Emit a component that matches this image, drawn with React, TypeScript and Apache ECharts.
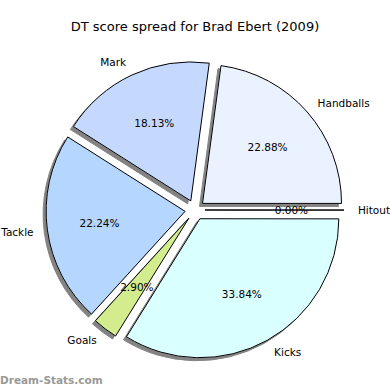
import React, { useEffect, useRef } from "react";
import * as echarts from "echarts";

const titleText = "DT score spread for Brad Ebert (2009)";
const categories = ["Handballs", "Mark", "Tackle", "Goals", "Kicks", "Hitout"];
const percents = [22.88, 18.13, 22.24, 2.9, 33.84, 0.0];
const colors = ["#EAF1FF", "#C5D9FF", "#B4D6FF", "#D2EC8E", "#DAFFFF", "#FFFFFF"];
const watermark = "Dream-Stats.com";

const R = 139;
const CX = 195;
const CY = 210;
const OFFSET = 10;

export default function App() {
  const ref = useRef<HTMLDivElement>(null);
  useEffect(() => {
    if (!ref.current) return;
    const chart = echarts.init(ref.current, null, { renderer: "svg" });
    const font = "DejaVu Sans";
    const mainData = categories.map((name, i) => ({
      name,
      value: percents[i],
      selected: true,
      itemStyle: { color: colors[i] },
    }));
    const pctData = categories.map((name, i) => ({
      name,
      value: percents[i],
      selected: true,
    }));
    chart.setOption({
      animation: false,
      backgroundColor: "#ffffff",
      title: {
        text: titleText,
        left: "center",
        top: 15,
        textStyle: { fontFamily: font, fontSize: 13, fontWeight: "normal", color: "#000" },
      },
      graphic: [
        {
          type: "text",
          left: 0,
          top: 374,
          style: { text: watermark, fill: "#999999", font: `bold 10.5px ${font}` },
        },
      ],
      series: [
        {
          type: "pie",
          center: [CX, CY],
          radius: R,
          startAngle: 0,
          clockwise: false,
          minAngle: 0.05,
          selectedMode: "multiple",
          selectedOffset: OFFSET,
          avoidLabelOverlap: false,
          stillShowZeroSum: true,
          emphasis: { disabled: true },
          select: { disabled: false, itemStyle: { borderColor: "#000", borderWidth: 1 } },
          itemStyle: {
            borderColor: "#000",
            borderWidth: 1,
            shadowColor: "rgba(90,90,90,0.75)",
            shadowOffsetX: -3,
            shadowOffsetY: 3,
            shadowBlur: 0,
          },
          label: {
            show: true,
            position: "outside",
            formatter: "{b}",
            fontFamily: font,
            fontSize: 10.5,
            color: "#000",
            distanceToLabelLine: 0,
          },
          labelLine: { show: false, length: R * 0.1, length2: 0 },
          data: mainData,
          z: 2,
        },
        {
          type: "pie",
          center: [CX, CY],
          radius: R * 1.2,
          startAngle: 0,
          clockwise: false,
          minAngle: 0.05,
          selectedMode: "multiple",
          selectedOffset: OFFSET,
          avoidLabelOverlap: false,
          stillShowZeroSum: true,
          silent: true,
          emphasis: { disabled: true },
          itemStyle: { color: "rgba(0,0,0,0)", borderWidth: 0 },
          select: { itemStyle: { color: "rgba(0,0,0,0)", borderWidth: 0 } },
          label: {
            show: true,
            position: "inner",
            formatter: (p: any) => Number(p.value).toFixed(2) + "%",
            fontFamily: font,
            fontSize: 10.5,
            color: "#000",
          },
          labelLine: { show: false },
          data: pctData,
          z: 3,
        },
      ],
    });
    return () => chart.dispose();
  }, []);
  return <div ref={ref} style={{ width: 390, height: 390, position: "absolute", left: 0, top: 0 }} />;
}
